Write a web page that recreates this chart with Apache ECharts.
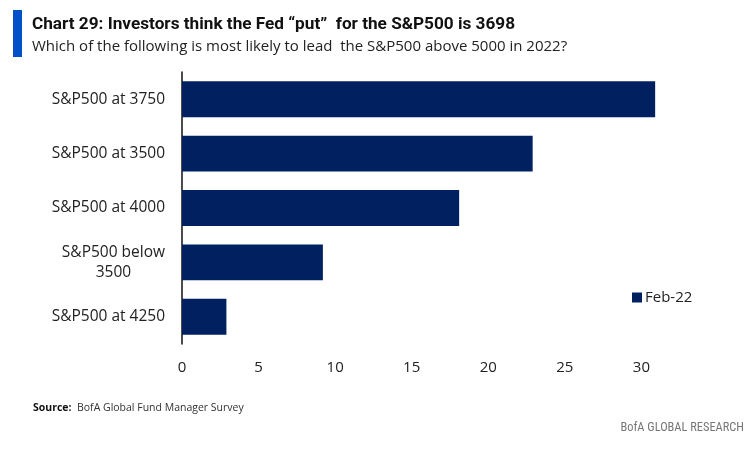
<!DOCTYPE html>
<html><head><meta charset="utf-8">
<script src="https://cdn.jsdelivr.net/npm/echarts@6/dist/echarts.min.js"></script>
<style>html,body{margin:0;padding:0;background:#fff}#c{width:750px;height:451px}</style>
</head><body><div id="c"></div>
<script>
const categories = ['S&P500 at 3750', 'S&P500 at 3500', 'S&P500 at 4000', 'S&P500 below\n3500', 'S&P500 at 4250'];
const seriesName = 'Feb-22';
const values = [30.9, 22.9, 18.1, 9.2, 2.9];
const xTicks = [0, 5, 10, 15, 20, 25, 30];

const narrow = '"Liberation Sans Narrow", "Roboto Condensed", sans-serif';
const chart = echarts.init(document.getElementById('c'));
chart.setOption({
  animation: false,
  graphic: [
    {type: 'rect', shape: {x: 13, y: 10, width: 9, height: 47}, style: {fill: '#0050C8'}},
    {type: 'text', left: 32, top: 16, style: {text: 'Chart 29: Investors think the Fed \u201cput\u201d  for the S&P500 is 3698', fontFamily: 'Roboto', fontWeight: 'bold', fontSize: 17.2, fill: '#111'}},
    {type: 'text', left: 32, top: 39, style: {text: 'Which of the following is most likely to lead  the S&P500 above 5000 in 2022?', fontFamily: 'Open Sans', fontSize: 15, fill: '#222'}},
    {type: 'text', left: 33, top: 403, style: {rich: {b: {fontFamily: 'Open Sans', fontWeight: 'bold', fontSize: 10.5, fill: '#111'}, n: {fontFamily: 'Open Sans', fontSize: 10.5, fill: '#333'}}, text: '{b|Source:}{n|  BofA Global Fund Manager Survey}'}},
    {type: 'text', right: 6, top: 422, style: {text: 'BofA GLOBAL RESEARCH', fontFamily: narrow, fontSize: 12.4, fill: '#777'}}
  ],
  legend: {
    data: [seriesName], left: 627, top: 285, icon: 'rect', itemWidth: 10, itemHeight: 10, itemGap: 4,
    textStyle: {fontFamily: 'Open Sans', fontSize: 15, color: '#222', padding: [0, 0, 0, -2]}
  },
  grid: {left: 182, top: 72, bottom: 107, right: 78, containLabel: false},
  xAxis: {
    type: 'value', min: 0, max: 32, interval: 5,
    axisLine: {show: false}, axisTick: {show: false}, splitLine: {show: false},
    axisLabel: {
      margin: 16, fontFamily: 'Open Sans', fontSize: 15, color: '#222',
      formatter: v => (xTicks.indexOf(v) >= 0 ? String(v) : '')
    }
  },
  yAxis: {
    type: 'category', data: categories, inverse: true,
    axisLine: {show: true, lineStyle: {color: '#111', width: 1.5}}, axisTick: {show: false},
    axisLabel: {
      margin: 17, fontFamily: 'Open Sans', fontSize: 15.5, color: '#222', lineHeight: 20,
      formatter: v => '{c|' + v + '}',
      rich: {c: {align: 'center', fontFamily: 'Open Sans', fontSize: 15.5, color: '#222', lineHeight: 20}}
    }
  },
  series: [{
    name: seriesName, type: 'bar', data: values, barCategoryGap: '34%',
    itemStyle: {color: '#002060'}
  }]
});
</script></body></html>
